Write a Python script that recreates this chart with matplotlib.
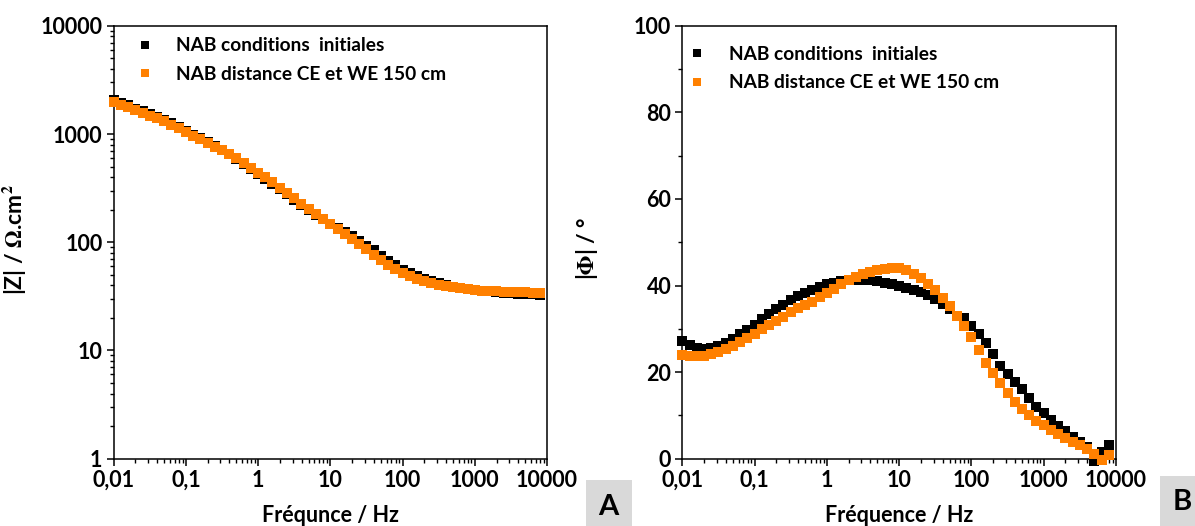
import numpy as np
import matplotlib
matplotlib.use('Agg')
import matplotlib.pyplot as plt
from matplotlib.patches import Rectangle

plt.rcParams['font.family'] = ['Lato', 'DejaVu Sans']
plt.rcParams['font.weight'] = 'bold'
plt.rcParams['mathtext.fontset'] = 'stix'

# frequencies (Hz), 10 points per decade
freq = [0.01, 0.0126, 0.0158, 0.02, 0.0251, 0.0316, 0.0398, 0.0501, 0.0631, 0.0794,
        0.1, 0.126, 0.158, 0.2, 0.251, 0.316, 0.398, 0.501, 0.631, 0.794,
        1.0, 1.26, 1.58, 2.0, 2.51, 3.16, 3.98, 5.01, 6.31, 7.94,
        10.0, 12.6, 15.8, 20.0, 25.1, 31.6, 39.8, 50.1, 63.1, 79.4,
        100.0, 126.0, 158.0, 200.0, 251.0, 316.0, 398.0, 501.0, 631.0, 794.0,
        1000.0, 1259.0, 1585.0, 1995.0, 2512.0, 3162.0, 3981.0, 5012.0, 6310.0, 7943.0]

# |Z| (ohm.cm2)
z_init = [2080, 1950, 1840, 1720, 1620, 1530, 1445, 1360, 1255, 1160,
          1075, 985, 910, 840, 770, 710, 648, 590, 530, 472,
          425, 386, 348, 310, 277, 248, 222, 199, 180, 164,
          149, 136, 125, 114, 103, 93, 84, 75, 67, 61,
          56, 52, 48.5, 45.8, 43.6, 41.8, 40.2, 39, 38, 37.1,
          36.3, 35.7, 35.1, 34.6, 34.2, 33.8, 33.5, 33.2, 33.0, 32.8]
z_150 = [1990, 1870, 1770, 1650, 1560, 1480, 1400, 1320, 1220, 1130,
         1050, 965, 895, 830, 765, 708, 650, 595, 540, 485,
         440, 400, 360, 320, 285, 255, 228, 204, 183, 165,
         148, 133, 119, 107, 96, 86, 77, 69, 62, 57,
         52.5, 49, 46, 43.8, 42, 40.5, 39.3, 38.3, 37.5, 36.8,
         36.2, 35.8, 35.4, 35.1, 34.9, 34.7, 34.5, 34.4, 34.2, 34.1]

# |phase| (deg)
ph_init = [27.1, 26.2, 25.6, 25.4, 25.5, 26.0, 26.8, 27.7, 28.7, 29.8,
           31.0, 32.2, 33.4, 34.5, 35.6, 36.6, 37.5, 38.3, 39.0, 39.7,
           40.3, 40.7, 41.0, 41.2, 41.3, 41.3, 41.2, 41.0, 40.7, 40.4,
           40.0, 39.5, 39.0, 38.4, 37.8, 36.9, 35.8, 34.5, 33.0, 32.4,
           30.6, 28.9, 26.8, 24.2, 21.5, 19.6, 17.8, 16.0, 14.0, 12.0,
           10.5, 9.0, 7.6, 6.3, 5.0, 3.8, 2.6, -0.5, 1.6, 3.2]
ph_150 = [24.0, 23.8, 23.7, 23.8, 24.1, 24.6, 25.3, 26.1, 27.0, 27.9,
          28.9, 29.9, 30.9, 31.8, 32.8, 33.8, 34.7, 35.5, 36.3, 37.3,
          38.3, 39.3, 40.3, 41.2, 42.0, 42.7, 43.2, 43.6, 43.9, 44.1,
          44.0, 43.5, 42.7, 41.7, 40.4, 39.0, 37.2, 35.2, 33.0, 30.7,
          28.0, 25.2, 22.2, 19.8, 17.5, 15.2, 13.0, 11.4, 10.0, 8.8,
          7.7, 6.7, 5.7, 4.8, 3.9, 3.1, 2.3, 1.2, -0.2, 0.9]

labels = ['NAB conditions  initiales', 'NAB distance CE et WE 150 cm']
xticks = [0.01, 0.1, 1, 10, 100, 1000, 10000]
xtick_labels = ['0,01', '0,1', '1', '10', '100', '1000', '10000']
z_ticks = [1, 10, 100, 1000, 10000]
z_tick_labels = ['1', '10', '100', '1000', '10000']
ph_ticks = [0, 20, 40, 60, 80, 100]

black = '#000000'
orange = '#FF8000'

fig = plt.figure(figsize=(11.95, 5.26), dpi=100)
W, H = 1195.0, 526.0
axA = fig.add_axes([113.7 / W, 1 - 458.7 / H, 433.3 / W, 432.9 / H])
axB = fig.add_axes([682.3 / W, 1 - 458.7 / H, 433.7 / W, 432.9 / H])

ms = 7.6
for ax, yi, yo in [(axA, z_init, z_150), (axB, ph_init, ph_150)]:
    ax.plot(freq, yi, 's', color=black, ms=ms, mew=0, label=labels[0], clip_on=False, zorder=3)
    ax.plot(freq, yo, 's', color=orange, ms=ms, mew=0, label=labels[1], clip_on=False, zorder=4)
    ax.set_xscale('log')
    ax.set_xlim(0.01, 10000)
    ax.set_xticks(xticks)
    ax.set_xticklabels(xtick_labels)
    for s in ax.spines.values():
        s.set_linewidth(1.1)
    ax.tick_params(which='major', direction='out', length=5, width=1.1, labelsize=15.5, pad=3)
    ax.tick_params(which='minor', direction='out', length=3, width=1.0)
    ax.tick_params(top=False, right=False, which='both')

axA.set_yscale('log')
axA.set_ylim(1, 10000)
axA.set_yticks(z_ticks)
axA.set_yticklabels(z_tick_labels)
axA.set_ylabel('|Z| / $\\Omega$.cm$^2$', fontsize=16.5, fontweight='bold')
axA.yaxis.set_label_coords(-0.198, 0.505)
axA.set_xlabel('Fréqunce / Hz', fontsize=15.5, fontweight='bold')
axA.xaxis.set_label_coords(0.5, -0.106)

axB.set_ylim(0, 100)
axB.set_yticks(ph_ticks)
axB.set_yticks([10, 30, 50, 70, 90], minor=True)
axB.set_ylabel('|$\\Phi$| / °', fontsize=16.5, fontweight='bold')
axB.yaxis.set_label_coords(-0.19, 0.487)
axB.set_xlabel('Fréquence / Hz', fontsize=15.5, fontweight='bold')
axB.xaxis.set_label_coords(0.5, -0.106)
for ax in (axA, axB):
    for t in ax.get_xticklabels() + ax.get_yticklabels():
        t.set_fontweight('bold')

legA = axA.legend(loc='upper left', bbox_to_anchor=(0.052, 0.973), frameon=False,
                  borderpad=0, borderaxespad=0, handlelength=0.95, handletextpad=1.1,
                  labelspacing=0.58, markerscale=0.72,
                  prop={'size': 13.8, 'weight': 'bold'})
legB = axB.legend(loc='upper left', bbox_to_anchor=(0.0136, 0.953), frameon=False,
                  borderpad=0, borderaxespad=0, handlelength=0.95, handletextpad=1.2,
                  labelspacing=0.58, markerscale=0.72,
                  prop={'size': 13.8, 'weight': 'bold'})

# panel tags
fig.add_artist(Rectangle((586 / W, 0), 46 / W, 46 / H, transform=fig.transFigure,
                         facecolor='#D9D9D9', edgecolor='none'))
fig.add_artist(Rectangle((1160 / W, 0), 40 / W, 50 / H, transform=fig.transFigure,
                         facecolor='#D9D9D9', edgecolor='none'))
fig.text(608 / W, 1 - 507 / H, 'A', fontsize=21, fontweight='bold', ha='center', va='center')
fig.text(1182 / W, 1 - 502 / H, 'B', fontsize=21, fontweight='bold', ha='center', va='center')

fig.savefig('out.png', dpi=100)
plt.close(fig)
